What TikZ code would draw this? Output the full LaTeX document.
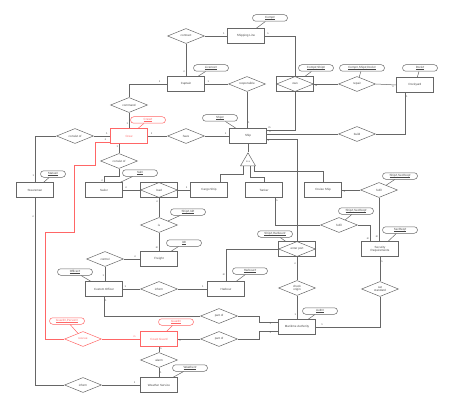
\documentclass[tikz,border=0pt]{standalone}
\usepackage{fontspec}
\setmainfont{Liberation Sans}
\usetikzlibrary{shapes.geometric,calc}
\definecolor{ln}{HTML}{666666}
\definecolor{rd}{HTML}{FF6666}
\definecolor{tx}{HTML}{444444}
\newcommand{\attu}[1]{\setbox0\hbox{#1}\leavevmode\rlap{\raisebox{-0.6pt}{\rule{\wd0}{0.18pt}}}\box0}
\begin{document}
\begin{tikzpicture}[x=1pt,y=-1pt,
 every node/.style={font=\fontsize{3}{3.5}\selectfont, text=tx},
 ent/.style={draw=ln, rectangle, minimum width=37pt, minimum height=15pt, inner sep=0pt, align=center, line width=.5pt},
 rel/.style={draw=ln, diamond, aspect=2.5, minimum width=37pt, minimum height=15pt, inner sep=0pt, align=center, line width=.5pt},
 att/.style={draw=ln, rectangle, rounded corners=3.2pt, minimum width=35pt, minimum height=6.5pt, inner sep=0pt, line width=.5pt},
 card/.style={font=\fontsize{2.6}{3}\selectfont, inner sep=.8pt, text=tx},
 lnk/.style={draw=ln, line width=.5pt},
 redc/.style={draw=rd, text=rd},
]
\useasboundingbox (0,0) rectangle (454,406);

% entities
\node[ent] (shipline) at (246,36) {Shipping Line};
\node[ent] (captain) at (186,84) {Captain};
\node[ent] (ship) at (248,136) {Ship};
\node[ent,redc] (crew) at (129,136) {Crew};
\node[ent] (dockyard) at (415,85) {Dockyard};
\node[ent] (steersman) at (35,190) {Steersman};
\node[ent] (sailor) at (104,190) {Sailor};
\node[ent] (cargo) at (209,190) {Cargo Ship};
\node[ent] (tanker) at (264,190) {Tanker};
\node[ent] (cruise) at (323,190) {Cruise Ship};
\node[ent] (secreq) at (380,249) {Security\\Requirements};
\node[ent] (freight) at (159,259) {Freight};
\node[ent] (custom) at (104,289) {Custom Officer};
\node[ent] (harbour) at (226,289) {Harbour};
\node[ent] (maritime) at (297,327) {Maritime Authority};
\node[ent,redc] (coast) at (159,339) {Coast Guard};
\node[ent] (weather) at (159,385) {Weather Service};

% weak (associative) relationships
\node[ent] (own) at (295,84) {};
\node[rel] (ownD) at (295,84) {own};
\node[ent] (load) at (159,190) {};
\node[rel] (loadD) at (159,190) {load};
\node[ent] (enter) at (297,249) {};
\node[rel] (enterD) at (297,249) {enter port};

% relationships
\node[rel] (contract) at (186,36) {contract};
\node[rel] (responsible) at (247,84) {responsible};
\node[rel] (repair) at (357,84) {repair};
\node[rel] (build) at (357,134) {build};
\node[rel] (command) at (129,105) {command};
\node[rel] (have) at (186,136) {have};
\node[rel] (consistA) at (75,136) {consist of};
\node[rel] (consistB) at (119,161) {consist of};
\node[rel] (fulfilA) at (379,190) {fulfil};
\node[rel] (fulfilB) at (339,225) {fulfil};
\node[rel] (is) at (159,225) {is};
\node[rel] (check) at (297,288) {check\\origin};
\node[rel] (control) at (105,259) {control};
\node[rel] (inform) at (159,289) {inform};
\node[rel] (setstd) at (380,289) {set\\standard};
\node[rel] (partA) at (219,316) {part of};
\node[rel] (partB) at (219,339) {part of};
\node[rel,redc] (rescue) at (83,339) {rescue};
\node[rel] (alarm) at (159,360) {alarm};
\node[rel] (informB) at (83,385) {inform};

% ISA triangle
\node[draw=ln, line width=.5pt, regular polygon, regular polygon sides=3, minimum size=17.3pt, inner sep=0pt, font=\fontsize{2.4}{2.8}\selectfont] (isa) at (248,161.5) {is a};

% attributes
\node[att] (aComp) at (270,18) {\attu{Comp\#}};
\node[att] (aLic) at (211,68) {\attu{Licence\#}};
\node[att] (aCompShip) at (316,68) {\attu{Comp\#,Ship\#}};
\node[att, minimum width=45pt] (aCSD) at (362,68) {\attu{Comp\#,Ship\#,Dock\#}};
\node[att] (aDock) at (420,68) {\attu{Dock\#}};
\node[att] (aShip) at (220,118) {\attu{Ship\#}};
\node[att,redc] (aCrew) at (148,120) {\attu{Crew\#}};
\node[att, minimum width=25pt] (aStatus) at (53,174) {\attu{Status\#}};
\node[att] (aSal) at (140,173) {\attu{Sal\#}};
\node[att] (aShSec) at (400,176) {\attu{Ship\#,SecReq\#}};
\node[att] (aShSecB) at (356,211) {\attu{Ship\#,SecReq\#}};
\node[att] (aSecReq) at (400,230) {\attu{SecReq\#}};
\node[att] (aShId) at (188,212) {\attu{Ship\#,Id\#}};
\node[att] (aId) at (184,243) {\attu{Id\#}};
\node[att] (aShHarb) at (275,234) {\attu{Ship\#,Harbour\#}};
\node[att] (aHarb) at (250,271) {\attu{Harbour\#}};
\node[att] (aAuth) at (320,311) {\attu{Auth\#}};
\node[att] (aOfficer) at (75,272) {\attu{Officer\#}};
\node[att,redc] (aGuard) at (176,322) {\attu{Guard\#}};
\node[att,redc] (aGP) at (67,321) {\attu{Guard\#,Person\#}};
\node[att] (aWeather) at (190,368) {\attu{Weather\#}};

% attribute links
\draw[lnk] (aComp) -- (shipline);
\draw[lnk] (aLic) -- (captain);
\draw[lnk] (aCompShip) -- (own);
\draw[lnk] (aCSD) -- (repair);
\draw[lnk] (aDock) -- (dockyard);
\draw[lnk] (aShip) -- (ship);
\draw[lnk,draw=rd] (aCrew) -- (crew);
\draw[lnk] (aStatus) -- (steersman);
\draw[lnk] (aSal) -- (sailor);
\draw[lnk] (aShSec) -- (fulfilA);
\draw[lnk] (aShSecB) -- (fulfilB);
\draw[lnk] (aSecReq) -- (secreq);
\draw[lnk] (aShId) -- (is);
\draw[lnk] (aId) -- (freight);
\draw[lnk] (aShHarb) -- (enter);
\draw[lnk] (aHarb) -- (harbour);
\draw[lnk] (aAuth) -- (maritime);
\draw[lnk] (aOfficer) -- (custom);
\draw[lnk,draw=rd] (aGuard) -- (coast);
\draw[lnk,draw=rd] (aGP) -- (rescue);
\draw[lnk] (aWeather) -- (weather);

% connectors
\draw[lnk] (contract.east) -- node[card,pos=.85,above]{1} (shipline.west);
\draw[lnk] (contract.south) -- node[card,pos=.85,left]{n} (captain.north);
\draw[lnk] (shipline.east) -| node[card,pos=.05,above]{n} (own.north);
\draw[lnk] (captain.west) -| node[card,pos=.1,above]{1} (command.north);
\draw[lnk] (command.south) -- node[card,pos=.7,left]{1} (crew.north);
\draw[lnk] (captain.east) -- node[card,pos=.15,above]{1} (responsible.west);
\draw[lnk] (responsible.south) -- node[card,pos=.85,right]{1} (responsible.south |- ship.north);
\draw[lnk] (own.south) |- node[card,pos=.95,above]{m} ($(ship.east)+(0,-6)$);
\draw[lnk] ($(ship.east)+(0,-2)$) -- node[card,pos=.02,above right]{n} (build.west);
\draw[lnk] ($(ship.east)+(0,3)$) -| node[card,pos=.03,below]{n} (enter.north);
\draw[lnk] (own.east) -- node[card,pos=.1,below]{m} (repair.west);
\draw[lnk] (repair.east) -- node[card,pos=.85,below]{n} (dockyard.west);
\draw[lnk] (build.east) -| node[card,pos=.95,right]{1} ($(dockyard.south)+(-10,0)$);
\draw[lnk] (crew.east) -- node[card,pos=.2,above]{1} (have.west);
\draw[lnk] (have.east) -- node[card,pos=.85,above]{1} (ship.west);
\draw[lnk] (consistA.east) -- node[card,pos=.8,above]{1} (crew.west);
\draw[lnk] (consistA.west) -| node[card,pos=.93,left]{1} (steersman.north);
\draw[lnk] (consistB.north |- crew.south) -- node[card,pos=.3,left]{1} (consistB.north);
\draw[lnk] (consistB.south) -- ($(consistB.south)+(0,7)$) -| node[card,pos=.85,left]{n} (sailor.north);
\draw[lnk] (sailor.east) -- node[card,pos=.2,above]{n} (load.west);
\draw[lnk] (load.east) -- node[card,pos=.7,above]{1} (cargo.west);
\draw[lnk] (load.south) -- node[card,pos=.2,left]{n} (is.north);
\draw[lnk] (is.south) -- node[card,pos=.8,left]{m} (freight.north);
\draw[lnk] (ship.south) -- (isa.corner 1);
\draw[lnk] ($(isa.corner 2)!0.17!(isa.corner 3)$) -- ++(0,8) -| ($(cargo.north)+(11,0)$);
\draw[lnk] ($(isa.corner 2)!0.63!(isa.corner 3)$) -- ++(0,11) -| (tanker.north);
\draw[lnk] ($(isa.corner 2)!0.9!(isa.corner 3)$) -- ++(0,5) -| (cruise.north);
\draw[lnk] (cruise.east) -- node[card,pos=.15,below]{n} (fulfilA.west);
\draw[lnk] (fulfilA.south) -- node[card,pos=.9,left]{m} (fulfilA.south |- secreq.north);
\draw[lnk] ($(tanker.south)+(11,0)$) |- node[card,pos=.06,right]{n} (fulfilB.west);
\draw[lnk] (fulfilB.east) -| node[card,pos=.93,left]{m} ($(secreq.north)+(-10,0)$);
\draw[lnk] (secreq.south) -- node[card,pos=.2,right]{n} (setstd.north);
\draw[lnk] (setstd.south) |- node[card,pos=.95,above]{1} (maritime.east);
\draw[lnk] (enter.south) -- node[card,pos=.3,left]{n} (check.north);
\draw[lnk] (check.south) -- node[card,pos=.8,left]{1} (maritime.north);
\draw[lnk] (enter.west) -| node[card,pos=.9,left]{m} (harbour.north);
\draw[lnk] (control.east) -- node[card,pos=.7,above]{n} (freight.west);
\draw[lnk] (control.south) -- node[card,pos=.6,left]{1} (control.south |- custom.north);
\draw[lnk] (custom.east) -- node[card,pos=.15,above]{1} (inform.west);
\draw[lnk] (inform.east) -- node[card,pos=.85,above]{1} (harbour.west);
\draw[lnk] (custom.south) |- node[card,pos=.1,right]{1} (partA.west);
\draw[lnk] (partA.east) -- ++(21,0) |- node[card,pos=.8,below]{1} ($(maritime.west)+(0,-5)$);
\draw[lnk] (coast.east) -- node[card,pos=.1,below]{1} (partB.west);
\draw[lnk] (partB.east) -- ++(21,0) |- node[card,pos=.8,below]{1} ($(maritime.west)+(0,4)$);
\draw[lnk,draw=rd] ($(crew.west)+(0,6)$) -- node[card,pos=.3,above]{n} (95,142) -- (95,165) -- (74,165) -- (74,232) -- (45,232) |- (rescue.west);
\draw[lnk,draw=rd] (rescue.east) -- node[card,pos=.85,above,text=rd]{m} (coast.west);
\draw[lnk] (coast.south) -- node[card,pos=.4,right]{n} (alarm.north);
\draw[lnk] (alarm.south) -- node[card,pos=.5,right]{1} (weather.north);
\draw[lnk] (steersman.south) |- node[card,pos=.05,left]{n} (informB.west);
\draw[lnk] (informB.east) -- node[card,pos=.85,above]{1} (weather.west);
\end{tikzpicture}
\end{document}
